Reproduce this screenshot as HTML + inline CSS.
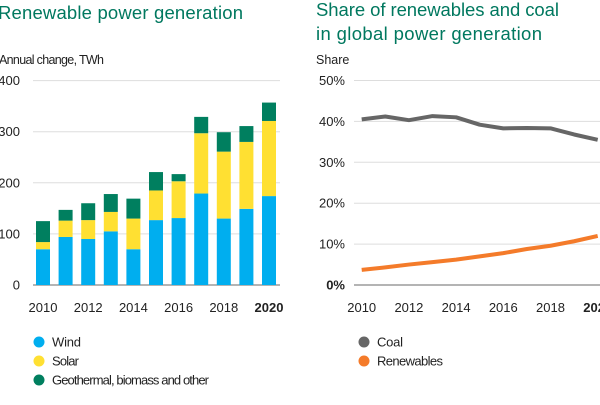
<!DOCTYPE html>
<html><head><meta charset="utf-8"><style>
body{margin:0;background:#fff;}
svg text{font-family:"Liberation Sans",sans-serif;}
</style></head><body>
<svg id="c" width="600" height="400" viewBox="0 0 600 400">
<text x="-2" y="19" font-size="18.5" fill="#00785f" textLength="245">Renewable power generation</text>
<text x="-1" y="64" font-size="12.5" fill="#222" textLength="105">Annual change, TWh</text>
<text x="316" y="16" font-size="18.5" fill="#00785f" textLength="243">Share of renewables and coal</text>
<text x="316" y="40" font-size="18.5" fill="#00785f" textLength="226">in global power generation</text>
<text x="316" y="64" font-size="12.5" fill="#222">Share</text>
<g id="left"></g><g id="right"></g>
<g>
<circle cx="39" cy="342" r="5.5" fill="#00aeef"/><text x="52" y="346.5" font-size="13" fill="#222" textLength="29">Wind</text>
<circle cx="39" cy="361" r="5.5" fill="#ffe032"/><text x="52" y="365.5" font-size="13" fill="#222" textLength="27">Solar</text>
<circle cx="39" cy="380" r="5.5" fill="#007f5f"/><text x="52" y="384.5" font-size="13" fill="#222" textLength="157">Geothermal, biomass and other</text>
</g>
<g>
<circle cx="364" cy="342" r="5.5" fill="#666"/><text x="377" y="346.5" font-size="13" fill="#222" textLength="26">Coal</text>
<circle cx="364" cy="361" r="5.5" fill="#f47b2a"/><text x="377" y="365.5" font-size="13" fill="#222" textLength="66">Renewables</text>
</g>
</svg>
<script>
const years=[2010,2011,2012,2013,2014,2015,2016,2017,2018,2019,2020];
const wind=[70,94,90,105,70,127,131,179,130,149,174];
const solar=[14,32,37,38,60,58,72,118,131,131,147];
const other=[41,21,33,35,39,36,14,32,38,31,36];
const leftTicks=[0,100,200,300,400];
const coal=[40.5,41.2,40.3,41.3,41,39.2,38.3,38.4,38.3,36.8,35.5];
const renew=[3.7,4.3,5,5.6,6.2,7,7.8,8.8,9.6,10.7,12];
const rightTicks=[0,10,20,30,40,50];
const xLabels=[2010,2012,2014,2016,2018,2020];
const NS="http://www.w3.org/2000/svg";
function mk(p,t,a){const e=document.createElementNS(NS,t);for(const k in a)e.setAttribute(k,a[k]);p.appendChild(e);return e;}
const L=document.getElementById('left'),R=document.getElementById('right');
const ly=v=>285-v*0.511, lx=i=>43+i*22.6;
const ry=v=>285-v*4.09, rx=i=>361.7+i*23.6;
leftTicks.forEach(t=>{
 const g=mk(L,'line',{x1:33,x2:280,y1:ly(t),y2:ly(t),stroke:t?'#ddd':'#888','stroke-width':t?1:1.3});
 
 
 const tx=mk(L,'text',{x:20,y:ly(t)+4.5,'font-size':13,fill:'#222','text-anchor':'end'});tx.textContent=t;
 
 
});
years.forEach((y,i)=>{
 const segs=[[wind[i],'#00aeef','wind'],[solar[i],'#ffe032','solar'],[other[i],'#007f5f','other']];
 let base=0;
 segs.forEach(s=>{
  const r=mk(L,'rect',{x:lx(i)-7,width:14,y:ly(base+s[0]),height:s[0]*0.511,fill:s[1]});
  
  
  base+=s[0];
 });
});
xLabels.forEach(y=>{
 const i=years.indexOf(y);
 const t=mk(L,'text',{x:lx(i),y:312,'font-size':13,fill:'#222','text-anchor':'middle','font-weight':y===2020?'bold':'normal'});t.textContent=y;
 
 
 const t2=mk(R,'text',{x:rx(i),y:312,'font-size':13,fill:'#222','text-anchor':'middle','font-weight':y===2020?'bold':'normal'});t2.textContent=y;
 
 
});
rightTicks.forEach(t=>{
 const g=mk(R,'line',{x1:354,x2:600,y1:ry(t),y2:ry(t),stroke:t?'#ddd':'#888','stroke-width':t?1:1.3});
 
 
 const tx=mk(R,'text',{x:345,y:ry(t)+4.5,'font-size':13,fill:'#222','text-anchor':'end','font-weight':t?'normal':'bold'});tx.textContent=t+'%';
 
 
});
[[coal,'#666','coal-line'],[renew,'#f47b2a','renewables-line']].forEach(s=>{
 const p=mk(R,'polyline',{points:s[0].map((v,i)=>rx(i)+','+ry(v)).join(' '),fill:'none',stroke:s[1],'stroke-width':4,'stroke-linejoin':'round'});
 
 
});
</script>
</body></html>
